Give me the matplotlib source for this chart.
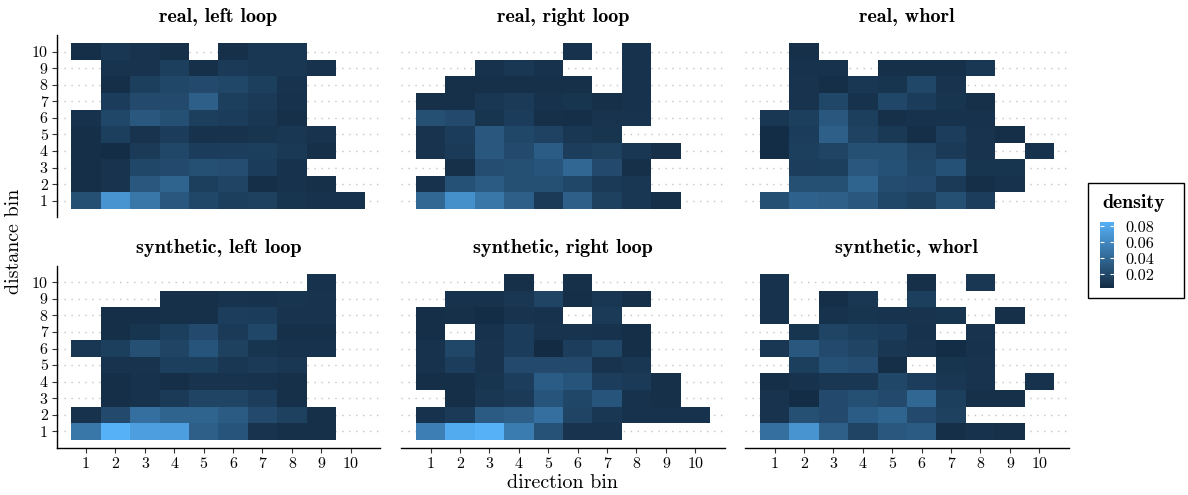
import numpy as np
import matplotlib
matplotlib.use('Agg')
import matplotlib.pyplot as plt
from matplotlib.colors import LinearSegmentedColormap, Normalize
from matplotlib.patches import Rectangle

plt.rcParams['font.family'] = ['cmr10', 'DejaVu Serif']
plt.rcParams['axes.formatter.use_mathtext'] = True

n = np.nan
bins = np.arange(1, 11)
tick_labels = [str(b) for b in bins]

# density per cell; rows run distance bin 10 -> 1, columns direction bin 1 -> 10
real_left = [
    [.005, .010, .008, .006, n, .006, .010, .010, n, n],
    [n, .008, .008, .015, .006, .012, .010, .010, .007, n],
    [n, .005, .015, .020, .022, .020, .015, .008, n, n],
    [n, .013, .022, .022, .035, .015, .012, .007, n, n],
    [.007, .020, .030, .025, .015, .013, .010, .006, n, n],
    [.005, .015, .008, .013, .007, .007, .009, .010, .008, n],
    [.005, .004, .012, .020, .013, .014, .015, .011, .006, n],
    [.005, .008, .020, .022, .025, .024, .013, .007, n, n],
    [.005, .008, .030, .038, .015, .018, .005, .007, .006, n],
    [.025, .068, .050, .030, .020, .015, .016, .009, .007, .007],
]
real_right = [
    [n, n, n, n, n, .007, n, .007, n, n],
    [n, n, .007, .010, .007, n, n, .007, n, n],
    [n, .006, .006, .006, .006, .006, n, .007, n, n],
    [.006, .006, .010, .012, .007, .009, .006, .007, n, n],
    [.025, .022, .009, .013, .006, .005, .008, .008, n, n],
    [.008, .013, .030, .020, .017, .010, .009, n, n, n],
    [.008, .012, .030, .022, .033, .014, .016, .010, .006, n],
    [n, .006, .024, .025, .028, .040, .022, .006, n, n],
    [.007, .026, .032, .025, .025, .020, .012, .010, n, n],
    [.040, .065, .050, .035, .012, .035, .016, .010, .006, n],
]
real_whorl = [
    [n, .006, n, n, n, n, n, n, n, n],
    [n, .007, .007, n, .006, .006, .006, .010, n, n],
    [n, .008, .005, .010, .009, .020, .008, n, n, n],
    [n, .008, .020, .007, .020, .013, .009, .006, n, n],
    [.010, .015, .030, .015, .006, .007, .007, .007, n, n],
    [.004, .013, .035, .017, .011, .005, .014, .008, .005, n],
    [.004, .015, .018, .025, .025, .018, .012, .008, n, .007],
    [n, .014, .015, .030, .026, .020, .026, .009, .009, n],
    [n, .025, .025, .038, .023, .022, .012, .005, .007, n],
    [.025, .036, .035, .030, .020, .016, .025, .014, n, n],
]
synthetic_left = [
    [n, n, n, n, n, n, n, n, .007, n],
    [n, n, n, .006, .006, .008, .007, .009, .008, n],
    [n, .005, .005, .006, .006, .014, .013, .008, .008, n],
    [n, .005, .009, .015, .022, .012, .020, .006, .006, n],
    [.010, .015, .025, .018, .028, .016, .009, .007, .007, n],
    [n, .008, .008, .015, .015, .010, .012, .010, n, n],
    [n, .005, .007, .005, .008, .008, .007, .006, n, n],
    [n, .005, .007, .012, .018, .018, .014, .006, n, n],
    [.007, .022, .045, .038, .038, .032, .022, .016, .006, n],
    [.050, .086, .074, .074, .035, .028, .008, .006, .006, n],
]
synthetic_right = [
    [n, n, n, .006, n, .006, n, n, n, n],
    [n, .007, .007, .010, .018, .005, .010, .006, n, n],
    [.005, .006, .004, .008, .007, n, .012, n, n, n],
    [.005, n, .007, .013, .008, .008, .007, .005, n, n],
    [.007, .020, .008, .013, .0025, .014, .020, .005, n, n],
    [.007, .014, .008, .022, .022, .022, .008, .010, n, n],
    [.005, .005, .009, .014, .033, .028, .014, .012, .006, n],
    [n, .005, .010, .012, .028, .020, .028, .007, .006, n],
    [.007, .012, .032, .035, .045, .018, .010, .007, .007, .007],
    [.055, .082, .086, .053, .027, .008, .008, n, n, n],
]
synthetic_whorl = [
    [.007, n, n, n, n, .006, n, .010, n, n],
    [.007, n, .005, .010, n, .015, n, n, n, n],
    [.007, n, .007, .009, .008, .008, .009, n, .006, n],
    [n, .009, .018, .015, .013, .007, n, .008, n, n],
    [.010, .030, .022, .018, .010, .008, .004, .007, n, n],
    [n, .015, .026, .024, .005, n, .009, .008, n, n],
    [.005, .007, .010, .010, .020, .014, .010, .008, n, .007],
    [.008, .004, .022, .025, .022, .040, .015, .006, .006, n],
    [.008, .025, .022, .033, .038, .022, .016, n, n, n],
    [.045, .068, .035, .018, .030, .032, .005, .007, .006, n],
]

panels = [
    ('real, left loop', real_left),
    ('real, right loop', real_right),
    ('real, whorl', real_whorl),
    ('synthetic, left loop', synthetic_left),
    ('synthetic, right loop', synthetic_right),
    ('synthetic, whorl', synthetic_whorl),
]
legend_ticks = [0.02, 0.04, 0.06, 0.08]

all_vals = np.array([g for _, g in panels], dtype=float)
norm = Normalize(vmin=np.nanmin(all_vals), vmax=np.nanmax(all_vals))
cmap = LinearSegmentedColormap.from_list('gg_blues', ['#132B43', '#56B1F7'])

W, H = 1188, 495
fig = plt.figure(figsize=(W / 100, H / 100), dpi=100)

lefts = [56.7, 401.3, 745.3]
tops = [35, 265.7]
pw, ph = 323.3, 182.3
edges = np.arange(0.5, 11.5, 1)

mesh = None
for i, (title, grid) in enumerate(panels):
    r, c = divmod(i, 3)
    ax = fig.add_axes([lefts[c] / W, 1 - (tops[r] + ph) / H, pw / W, ph / H])
    z = np.ma.masked_invalid(np.flipud(np.array(grid, dtype=float)))
    mesh = ax.pcolormesh(edges, edges, z, cmap=cmap, norm=norm, zorder=2)
    ax.set_xlim(0, 11)
    ax.set_ylim(0, 11)
    ax.set_xticks(bins)
    ax.set_yticks(bins)
    ax.set_xticklabels(tick_labels)
    ax.set_yticklabels(tick_labels)
    ax.yaxis.grid(True, linestyle=(0, (1, 4)), color='#c4c4c4', linewidth=1, zorder=0)
    ax.set_axisbelow(True)
    for s in ['top', 'right', 'left', 'bottom']:
        ax.spines[s].set_visible(False)
    ax.tick_params(labelsize=11.5, length=3.5, width=0.8, color='#333333', pad=3)
    if c == 0:
        ax.spines['left'].set_visible(True)
        ax.spines['left'].set_linewidth(1)
    else:
        ax.tick_params(axis='y', left=False, labelleft=False)
    if r == 1:
        ax.spines['bottom'].set_visible(True)
        ax.spines['bottom'].set_linewidth(1)
    else:
        ax.tick_params(axis='x', bottom=False, labelbottom=False)
    ax.set_title(title, fontsize=14.5, family=['cmb10', 'DejaVu Serif'], pad=9.4)

fig.text(562.6 / W, 1 - 488 / H, 'direction bin', ha='center', va='baseline', fontsize=14.4)
fig.text(14 / W, 1 - 241.5 / H, 'distance bin', ha='center', va='center',
         rotation=90, fontsize=14.4)

# legend box with colour bar
fig.patches.append(Rectangle((1088 / W, 1 - 298 / H), 96 / W, 115 / H,
                             transform=fig.transFigure, fill=False,
                             edgecolor='black', linewidth=1))
fig.text(1102 / W, 1 - 208 / H, 'density', ha='left', va='baseline',
         fontsize=14.3, family=['cmb10', 'DejaVu Serif'])
cax = fig.add_axes([1100 / W, 1 - 288.3 / H, 14 / W, 66.6 / H])
cb = fig.colorbar(mesh, cax=cax, ticks=legend_ticks)
cb.outline.set_visible(False)
cax.set_yticklabels(['0.02', '0.04', '0.06', '0.08'])
cax.tick_params(axis='y', direction='in', left=True, right=True, color='white',
                length=3, width=0.8, labelsize=11.8, pad=8)

fig.savefig('out.png', dpi=100)
